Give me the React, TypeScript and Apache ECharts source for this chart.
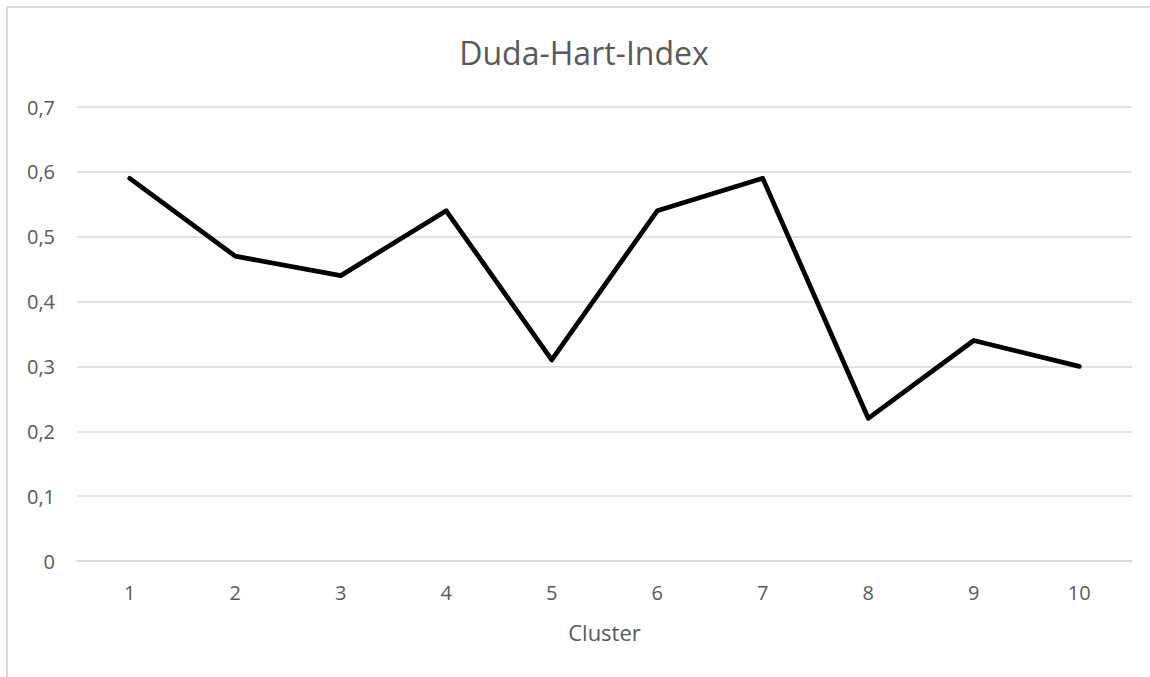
import React, { useEffect, useRef } from "react";
import * as echarts from "echarts";

const chartTitle = "Duda-Hart-Index";
const xAxisName = "Cluster";
const categories = ["1", "2", "3", "4", "5", "6", "7", "8", "9", "10"];
const dudaHartValues = [0.59, 0.47, 0.44, 0.54, 0.31, 0.54, 0.59, 0.22, 0.34, 0.3];
const yMin = 0;
const yMax = 0.7;
const yInterval = 0.1;

const FONT = "'Open Sans', 'Noto Sans', sans-serif";

export default function App() {
  const ref = useRef<HTMLDivElement>(null);
  useEffect(() => {
    if (!ref.current) return;
    const chart = echarts.init(ref.current, undefined, { renderer: "svg" });
    chart.setOption({
      animation: false,
      backgroundColor: "#ffffff",
      graphic: [
        {
          type: "line",
          shape: { x1: 7, y1: 7, x2: 1150, y2: 7 },
          style: { stroke: "#d9d9d9", lineWidth: 2 },
          silent: true,
        },
        {
          type: "line",
          shape: { x1: 7, y1: 7, x2: 7, y2: 677 },
          style: { stroke: "#d9d9d9", lineWidth: 2 },
          silent: true,
        },
      ],
      title: {
        text: chartTitle,
        left: 579,
        top: 31,
        textAlign: "center",
        textStyle: { fontFamily: FONT, fontSize: 32, fontWeight: "normal", color: "#595959" },
      },
      grid: { left: 77, right: 18, top: 107, bottom: 116, containLabel: false },
      xAxis: {
        type: "category",
        data: categories,
        boundaryGap: true,
        name: xAxisName,
        nameLocation: "middle",
        nameGap: 60,
        nameTextStyle: { fontFamily: FONT, fontSize: 22, color: "#595959" },
        axisLine: { show: true, lineStyle: { color: "#d9d9d9", width: 1.5 } },
        axisTick: { show: false },
        axisLabel: { fontFamily: FONT, fontSize: 20, color: "#595959", margin: 21 },
      },
      yAxis: {
        type: "value",
        min: yMin,
        max: yMax,
        interval: yInterval,
        axisLine: { show: false },
        axisTick: { show: false },
        splitLine: { show: true, lineStyle: { color: "#d9d9d9", width: 1.5 } },
        axisLabel: {
          fontFamily: FONT,
          fontSize: 20,
          color: "#595959",
          margin: 22,
          formatter: (v: number) => (v === 0 ? "0" : v.toFixed(1).replace(".", ",")),
        },
      },
      series: [
        {
          type: "line",
          data: dudaHartValues,
          symbol: "none",
          lineStyle: { color: "#000000", width: 4.75, cap: "round", join: "round" },
        },
      ],
    });
    return () => chart.dispose();
  }, []);
  return (
    <div
      ref={ref}
      style={{ position: "fixed", left: 0, top: 0, width: 1150, height: 677 }}
    />
  );
}
